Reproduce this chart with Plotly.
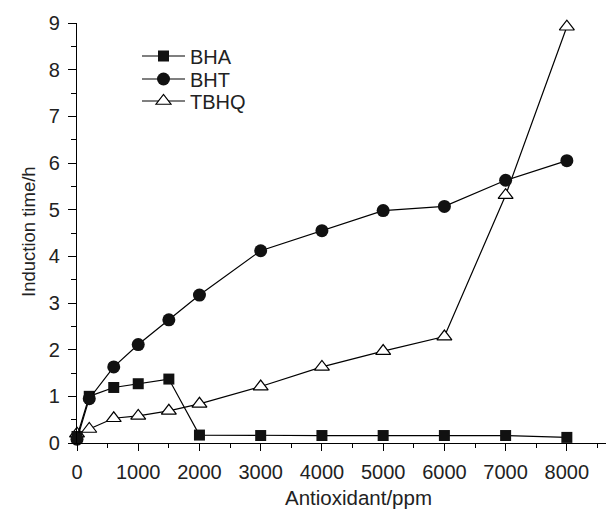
import plotly.graph_objects as go

x_vals = [0, 200, 600, 1000, 1500, 2000, 3000, 4000, 5000, 6000, 7000, 8000]
bha = [0.14, 1.00, 1.19, 1.27, 1.37, 0.17, 0.16, 0.16, 0.16, 0.16, 0.16, 0.12]
bht = [0.08, 0.95, 1.63, 2.11, 2.64, 3.17, 4.12, 4.55, 4.98, 5.07, 5.63, 6.05]
tbhq = [0.20, 0.30, 0.53, 0.58, 0.69, 0.84, 1.21, 1.63, 1.97, 2.28, 5.31, 8.92]

x_ticks = [0, 1000, 2000, 3000, 4000, 5000, 6000, 7000, 8000]
y_ticks = [0, 1, 2, 3, 4, 5, 6, 7, 8, 9]

FONT = "Liberation Sans, Arial, sans-serif"
TXT = "#222222"
line_style = dict(color="black", width=1.2)

# page is offset by 8px body margin; figure coords = page coords - 8
OFF = 8
L, T, W, H = 77 - OFF, 23 - OFF, 537, 420
FIG_W, FIG_H = 614 - OFF, 509 - OFF


def px(xp):
    return (xp - OFF - L) / W


def py(yp):
    return (T + H - (yp - OFF)) / H


fig = go.Figure()
fig.add_trace(go.Scatter(
    x=x_vals, y=tbhq, name="TBHQ", mode="lines+markers", legend="legend3",
    line=line_style, cliponaxis=False,
    marker=dict(symbol="triangle-up", size=13, color="white",
                line=dict(color="black", width=1.2))))
fig.add_trace(go.Scatter(
    x=x_vals, y=bha, name="BHA", mode="lines+markers", legend="legend",
    line=line_style, cliponaxis=False,
    marker=dict(symbol="square", size=11, color="#111111",
                line=dict(color="#111111", width=0))))
fig.add_trace(go.Scatter(
    x=x_vals, y=bht, name="BHT", mode="lines+markers", legend="legend2",
    line=line_style, cliponaxis=False,
    marker=dict(symbol="circle", size=13, color="#111111",
                line=dict(color="#111111", width=0))))

axis_common = dict(
    showgrid=False, zeroline=False, showline=True, linecolor="black",
    linewidth=1.3, ticks="outside", tickcolor="black", tickwidth=1.2,
    automargin=False,
    tickfont=dict(family=FONT, size=20, color=TXT),
)

fig.update_xaxes(range=[0, 8770], tickvals=x_ticks, ticklen=7,
                 ticklabelstandoff=4,
                 minor=dict(dtick=500, tick0=0, ticks="outside", ticklen=4,
                            tickcolor="black", tickwidth=1.2),
                 **axis_common)
fig.update_yaxes(range=[0, 9], tickvals=y_ticks, ticklen=8,
                 ticklabelstandoff=4,
                 minor=dict(dtick=0.5, tick0=0, ticks="outside", ticklen=5,
                            tickcolor="black", tickwidth=1.2),
                 **axis_common)

fig.add_annotation(text="Antioxidant/ppm", xref="paper", yref="paper",
                   x=px(358), y=py(497),
                   xanchor="center", yanchor="middle", showarrow=False,
                   font=dict(family=FONT, size=20.5, color=TXT))
fig.add_annotation(text="Induction time/h", xref="paper", yref="paper",
                   x=px(28), y=py(232), textangle=-90,
                   xanchor="center", yanchor="middle", showarrow=False,
                   font=dict(family=FONT, size=18.5, color=TXT))

leg_common = dict(xanchor="left", yanchor="middle", bgcolor="rgba(0,0,0,0)",
                  font=dict(family=FONT, size=20, color=TXT),
                  tracegroupgap=0, itemwidth=43)

fig.update_layout(
    width=FIG_W, height=FIG_H,
    margin=dict(l=L, r=FIG_W - L - W, t=T, b=FIG_H - T - H, autoexpand=False),
    paper_bgcolor="white", plot_bgcolor="white",
    showlegend=True,
    legend=dict(x=px(137), y=py(56), **leg_common),
    legend2=dict(x=px(137), y=py(79), **leg_common),
    legend3=dict(x=px(137), y=py(101), **leg_common),
)

fig.write_html("out.html")
